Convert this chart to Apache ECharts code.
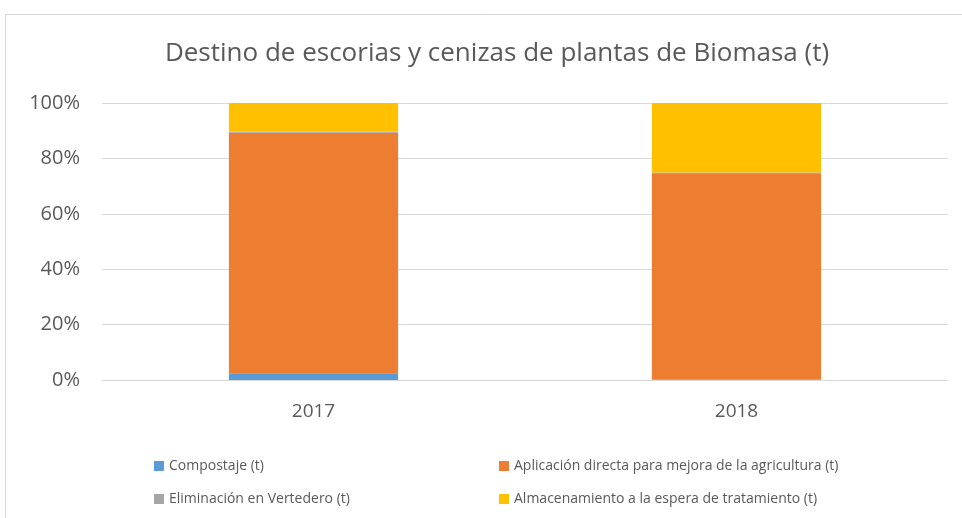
<!DOCTYPE html>
<html>
<head>
<meta charset="utf-8">
<script src="https://cdn.jsdelivr.net/npm/echarts@6/dist/echarts.min.js"></script>
<style>
	html, body { margin: 0; padding: 0; background: #fff; }
	.chart { width: 962px; height: 518px; }
</style>
</head>
<body>
<div class="chart"></div>
<script>
var years = ['2017', '2018'];
var compostaje = [2.4, 0.1]; // %
var aplicacion = [86.9, 74.3];
var eliminacion = [0.3, 0.5];
var almacenamiento = [10.4, 25.1];
var yTicks = [0, 20, 40, 60, 80, 100];

(function() { // barras apiladas 100%
	var myChart = echarts.init(document.querySelector('.chart'))
	var font = 'Open Sans'
	var txt = '#595959'
	var names = ['Compostaje (t)', 'Aplicación directa para mejora de la agricultura (t)',
		'Eliminación en Vertedero (t)', 'Almacenamiento a la espera de tratamiento (t)']
	var colors = ['#5B9BD5', '#ED7D31', '#A5A5A5', '#FFC000']
	var datas = [compostaje, aplicacion, eliminacion, almacenamiento]
	let legendStyle = {
		orient: 'vertical',
		top: 454,
		itemGap: 19,
		itemWidth: 10,
		itemHeight: 10,
		icon: 'rect',
		textStyle: { color: txt, fontFamily: font, fontSize: 14 }
	}
	let option = {
		animation: false,
		title: {
			text: 'Destino de escorias y cenizas de plantas de Biomasa (t)',
			left: 492,
			textAlign: 'center',
			top: 36,
			textStyle: { color: txt, fontFamily: font, fontSize: 26, fontWeight: 'normal' }
		},
		legend: [
			Object.assign({ left: 149, data: [names[0], names[2]] }, legendStyle),
			Object.assign({ left: 494, data: [names[1], names[3]] }, legendStyle)
		],
		grid: { left: 102, right: 14, top: 103, bottom: 138 },
		xAxis: {
			type: 'category',
			data: years,
			axisTick: { show: false },
			axisLine: { lineStyle: { color: '#D9D9D9', width: 1 } },
			axisLabel: { color: txt, fontFamily: font, fontSize: 19, margin: 22 }
		},
		yAxis: {
			type: 'value',
			min: yTicks[0],
			max: yTicks[yTicks.length - 1],
			interval: yTicks[1] - yTicks[0],
			axisLine: { show: false },
			axisTick: { show: false },
			splitLine: { lineStyle: { color: '#D9D9D9', width: 1 } },
			axisLabel: { color: txt, fontFamily: font, fontSize: 20, margin: 22, formatter: '{value}%' }
		},
		graphic: [
			{ type: 'line', shape: { x1: 5.5, y1: 14, x2: 5.5, y2: 518 }, style: { stroke: '#D9D9D9', lineWidth: 1 } },
			{ type: 'line', shape: { x1: 5, y1: 14.5, x2: 962, y2: 14.5 }, style: { stroke: '#D9D9D9', lineWidth: 1 } }
		],
		series: names.map(function(n, i) {
			return {
				name: n,
				type: 'bar',
				stack: 'total',
				barWidth: '40%',
				itemStyle: { color: colors[i] },
				data: datas[i]
			}
		})
	};
	myChart.setOption(option);
})();
</script>
</body>
</html>
